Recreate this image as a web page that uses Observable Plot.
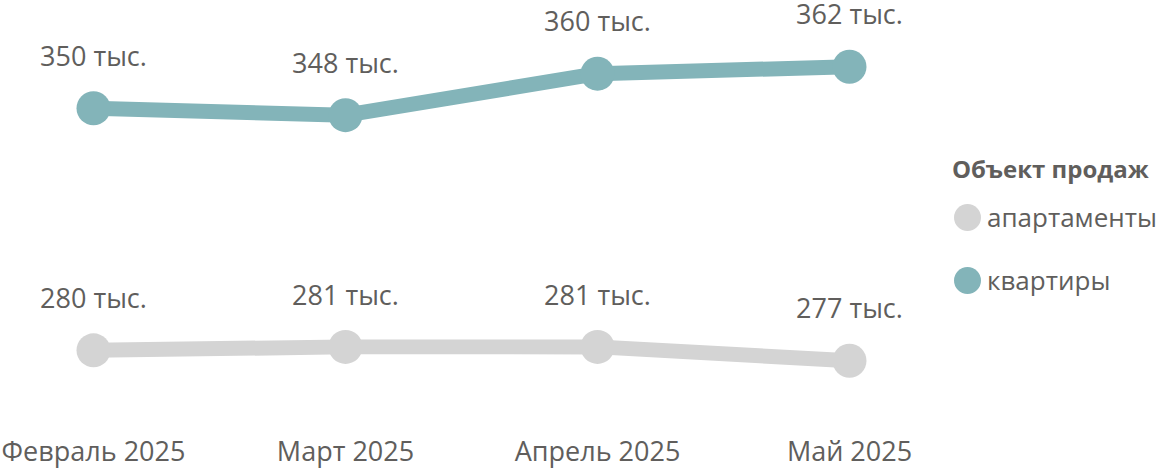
<!DOCTYPE html>
<html>
<head>
<meta charset="utf-8">
<script src="https://cdn.jsdelivr.net/npm/d3@7"></script>
<script src="https://cdn.jsdelivr.net/npm/@observablehq/plot@0.6"></script>
<style>
  html, body { margin: 0; padding: 0; background: #fff; }
  #wrap { position: relative; width: 1165px; height: 468px; font-family: "Open Sans", "Noto Sans", sans-serif; color: #605e5c; }
  #legend { position: absolute; left: 952px; top: 152px; }
  #legend .title { font-weight: 700; font-size: 24px; line-height: 34px; margin-bottom: 14px; }
  #legend .item { display: flex; align-items: center; font-size: 26px; height: 34px; margin-bottom: 29px; }
  #legend .sw { width: 27px; height: 27px; border-radius: 50%; margin-left: 2px; margin-right: 6px; }
</style>
</head>
<body>
<div id="wrap"><div id="chart"></div><div id="legend"></div></div>
<script>
const months = ["Февраль 2025", "Март 2025", "Апрель 2025", "Май 2025"];
const series = ["апартаменты", "квартиры"];
const apartmentsValues = [280, 281, 281, 277];
const flatsValues = [350, 348, 360, 362];
const colors = ["#d4d4d4", "#83b4b9"];
const legendTitle = "Объект продаж";

const data = [];
months.forEach((m, i) => {
  data.push({month: m, type: series[0], value: apartmentsValues[i]});
  data.push({month: m, type: series[1], value: flatsValues[i]});
});

const textColor = "#605e5c";
const chart = Plot.plot({
  width: 1165,
  height: 468,
  marginBottom: 30,
  style: {fontFamily: '"Open Sans", "Noto Sans", sans-serif', color: textColor, background: "transparent", overflow: "visible"},
  x: {type: "point", domain: months, range: [93, 849], padding: 0, label: null},
  y: {domain: [260, 380], range: [419, 4], axis: null},
  color: {domain: series, range: colors},
  marks: [
    Plot.line(data, {x: "month", y: "value", z: "type", stroke: "type", strokeWidth: 15, strokeLinecap: "round", strokeLinejoin: "round"}),
    Plot.dot(data, {x: "month", y: "value", fill: "type", r: 17, stroke: "none"}),
    Plot.text(data, {x: "month", y: "value", text: d => `${d.value} тыс.`, dy: -51, fontSize: 27, fill: textColor}),
    Plot.axisX({tickSize: 0, fontSize: 27, fill: textColor, tickPadding: 0, dy: 3, label: null})
  ]
});
document.getElementById("chart").appendChild(chart);

const legend = document.getElementById("legend");
const t = document.createElement("div");
t.className = "title"; t.textContent = legendTitle;
legend.appendChild(t);
series.forEach((s, i) => {
  const it = document.createElement("div");
  it.className = "item";
  const sw = document.createElement("div");
  sw.className = "sw"; sw.style.background = colors[i];
  const lb = document.createElement("span");
  lb.textContent = s;
  it.appendChild(sw); it.appendChild(lb);
  legend.appendChild(it);
});
</script>
</body>
</html>
